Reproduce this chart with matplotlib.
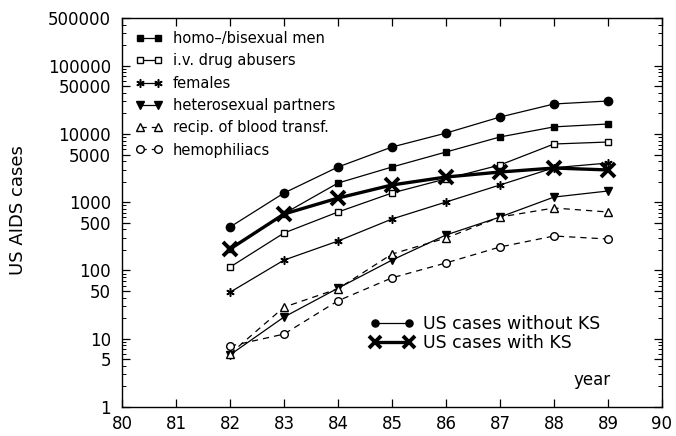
import matplotlib
matplotlib.use("Agg")
import matplotlib.pyplot as plt
import numpy as np

years = [82, 83, 84, 85, 86, 87, 88, 89]

homo_men = [206, 680, 1910, 3280, 5440, 9040, 12700, 14000]
iv_drug = [112, 354, 719, 1365, 2200, 3510, 7130, 7620]
females = [48, 142, 270, 568, 1007, 1790, 3200, 3750]
hetero = [5.8, 20.8, 55, 142, 331, 607, 1190, 1460]
blood = [6, 29, 54, 174, 299, 607, 823, 719]
hemo = [7.8, 11.7, 36, 78, 129, 221, 320, 289]
no_ks = [433, 1365, 3280, 6440, 10300, 17700, 27500, 30400]
with_ks = [206, 672, 1150, 1790, 2340, 2770, 3170, 2970]

ytick_vals = [1, 5, 10, 50, 100, 500, 1000, 5000, 10000, 50000, 100000, 500000]
ytick_labels = ["1", "5", "10", "50", "100", "500", "1000", "5000", "10000",
                "50000", "100000", "500000"]
xtick_vals = list(range(80, 91))
xtick_labels = [str(v) for v in xtick_vals]

plt.rcParams['font.family'] = ['DejaVu Sans']

fig = plt.figure(figsize=(6.76, 4.36), dpi=100)
ax = fig.add_axes([122/676, 1-407/436, (662-122)/676, (407-18)/436])
ax.set_yscale('log')
ax.set_ylim(1, 500000)
ax.set_xlim(80, 90)

k = 'black'
lw = 0.9
h1, = ax.plot(years, homo_men, '-', color=k, lw=lw, marker='s', ms=5, mfc=k, mec=k)
h2, = ax.plot(years, iv_drug, '-', color=k, lw=lw, marker='s', ms=5, mfc='white', mec=k, mew=1)
h3, = ax.plot(years, females, '-', color=k, lw=lw, marker=(6, 2, 0), ms=6, mec=k, mew=1.1)
h4, = ax.plot(years, hetero, '-', color=k, lw=lw, marker='v', ms=5.5, mfc=k, mec=k)
h5, = ax.plot(years, blood, '--', color=k, lw=lw, marker='^', ms=5.5, mfc='white', mec=k, mew=1,
              dashes=(5, 4))
h6, = ax.plot(years, hemo, '--', color=k, lw=lw, marker='o', ms=5.5, mfc='white', mec=k, mew=1,
              dashes=(5, 4))
h7, = ax.plot(years, no_ks, '-', color=k, lw=lw, marker='o', ms=6, mfc=k, mec=k)
h8, = ax.plot(years, with_ks, '-', color=k, lw=2.4, marker='x', ms=10, mec=k, mew=2.8)

ax.set_yticks(ytick_vals)
ax.set_yticklabels(ytick_labels)
ax.set_xticks(xtick_vals)
ax.set_xticklabels(xtick_labels)
ax.tick_params(axis='both', which='major', direction='in', length=6, width=0.9,
               labelsize=12, top=True, right=True, colors=k)
ax.tick_params(axis='y', which='major', pad=8)
ax.tick_params(axis='x', which='major', pad=6)
ax.tick_params(axis='y', which='minor', direction='in', length=3, width=0.7,
               right=True, left=True)
ax.tick_params(axis='y', which='minor', labelleft=False)
for s in ax.spines.values():
    s.set_linewidth(1.0)

leg1 = ax.legend([h1, h2, h3, h4, h5, h6],
                 ["homo\u2013/bisexual men", "i.v. drug abusers", "females",
                  "heterosexual partners", "recip. of blood transf.", "hemophiliacs"],
                 loc='upper left', bbox_to_anchor=(0.0, 1.0), frameon=False,
                 numpoints=2, handlelength=1.9, handletextpad=0.7,
                 labelspacing=0.5, fontsize=10.5, borderaxespad=0.5)
ax.add_artist(leg1)
leg2 = ax.legend([h7, h8], ["US cases without KS", "US cases with KS"],
                 loc='lower right', bbox_to_anchor=(0.915, 0.10), frameon=False,
                 numpoints=2, handlelength=2.6, handletextpad=0.5,
                 labelspacing=0.1, fontsize=12.5, markerscale=0.85)

ax.text(0.905, 0.07, "year", transform=ax.transAxes, fontsize=12, ha='right', va='center')
fig.text(18/676, 1-210/436, "US AIDS cases", rotation=90, fontsize=13,
         ha='center', va='center')

fig.savefig("out.png", dpi=100)
